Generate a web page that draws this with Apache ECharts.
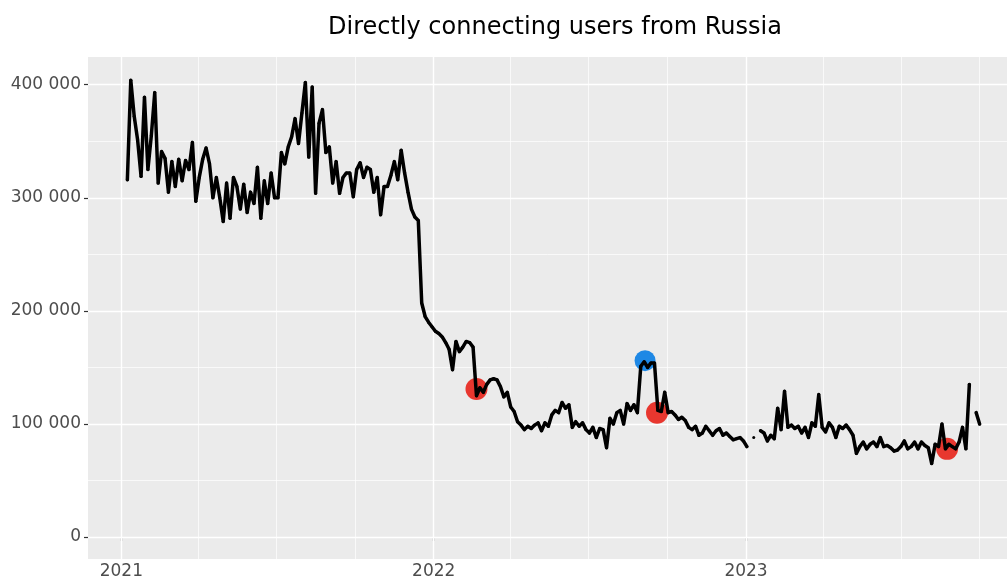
<!DOCTYPE html>
<html>
<head>
<meta charset="utf-8">
<script src="https://cdn.jsdelivr.net/npm/echarts@6/dist/echarts.min.js"></script>
<style>
html,body{margin:0;padding:0;background:#fff;}
#chart{width:1007px;height:580px;}
</style>
</head>
<body>
<div id="chart"></div>
<script>
// ---- data ----
const titleText = 'Directly connecting users from Russia';
const startDate = [2021, 1, 8];   // first day of the series
const stepDays = 4;               // spacing between readings
const users = [
316000,404000,372000,351000,319000,389000,325000,355000,393000,313000,
341000,335000,305000,332000,310000,334000,315000,333000,325000,349000,
297000,318000,334000,344000,330000,300000,318000,300000,279000,313000,
282000,318000,310000,290000,312000,287000,305000,295000,327000,282000,
315000,295000,322000,300000,300000,340000,330000,345000,354000,370000,
348000,375000,402000,336000,398000,304000,366000,378000,340000,345000,
313000,332000,304000,318000,322000,322000,301000,325000,331000,318000,
327000,325000,305000,318000,285000,310000,310000,320000,332000,316000,
342000,322000,305000,290000,283000,280000,207000,195000,190000,186000,
182000,180000,177000,172000,166000,148000,173000,164000,168000,173000,
172000,168000,125000,132000,128000,135000,139000,140000,139000,133000,
124000,128000,115000,111000,102000,99000,95000,98000,96000,99000,
101000,94000,101000,98000,108000,112000,110000,119000,114000,117000,
97000,102000,98000,101000,95000,92000,97000,88000,96000,95000,
79000,105000,100000,110000,112000,100000,118000,112000,117000,110000,
151000,155000,150000,154000,154000,112000,111000,128000,110000,111000,
108000,104000,106000,103000,97000,95000,98000,90000,92000,98000,
94000,90000,94000,96000,90000,92000,89000,86000,87000,88000,
85000,80000,null,88000,null,94000,92000,85000,90000,87000,
114000,95000,129000,97000,99000,96000,98000,92000,97000,88000,
101000,98000,126000,97000,93000,101000,97000,88000,98000,96000,
99000,95000,90000,74000,80000,84000,78000,82000,84000,80000,
88000,80000,81000,79000,76000,77000,80000,85000,78000,80000,
84000,78000,84000,81000,79000,65000,82000,80000,100000,78000,
82000,80000,78000,84000,97000,78000,135000,null,110000,100000
];
const blockDates = ['2022-02-20', '2022-09-19', '2023-08-24'];
const blockValues = [131000, 110000, 78000];
const unblockDates = ['2022-09-05'];
const unblockValues = [156000];
const yearTicks = ['2021-01-01', '2022-01-01', '2023-01-01'];
const quarterLines = ['2021-04-01','2021-07-01','2021-10-01','2022-04-01','2022-07-01','2022-10-01','2023-04-01','2023-07-01','2023-10-01'];
const yTicks = [0, 100000, 200000, 300000, 400000];
const yMinorLines = [50000, 150000, 250000, 350000];
const xMin = '2020-11-23', xMax = '2023-11-02';
const yMin = -19400, yMax = 424500;

// ---- helpers ----
function ts(s) { const p = s.split('-').map(Number); return new Date(p[0], p[1] - 1, p[2]).getTime(); }
const lineData = users.map((v, i) => [new Date(startDate[0], startDate[1] - 1, startDate[2] + stepDays * i).getTime(), v]);
const blockData = blockDates.map((d, i) => [ts(d), blockValues[i]]);
const unblockData = unblockDates.map((d, i) => [ts(d), unblockValues[i]]);
function fmtNum(v) { return String(v).replace(/\B(?=(\d{3})+(?!\d))/g, ' '); }

const major = { color: '#ffffff', width: 1.4, type: 'solid' };
const minor = { color: '#ffffff', width: 0.7, type: 'solid' };
const gridLines = []
  .concat(yMinorLines.map(v => ({ yAxis: v, lineStyle: minor })))
  .concat(quarterLines.map(d => ({ xAxis: ts(d), lineStyle: minor })))
  .concat(yTicks.map(v => ({ yAxis: v, lineStyle: major })))
  .concat(yearTicks.map(d => ({ xAxis: ts(d), lineStyle: major })));

const font = 'DejaVu Sans';
const chart = echarts.init(document.getElementById('chart'), null, { renderer: 'canvas' });
chart.setOption({
  animation: false,
  backgroundColor: '#ffffff',
  title: {
    text: titleText, left: 323, top: 11,
    textStyle: { fontFamily: font, fontSize: 24, fontWeight: 'normal', color: '#000000' }
  },
  grid: { left: 88, right: 0, top: 57, bottom: 20, show: true, backgroundColor: '#EBEBEB', borderWidth: 0 },
  xAxis: {
    type: 'value', min: ts(xMin), max: ts(xMax),
    axisLine: { show: false },
    splitLine: { show: false },
    axisTick: { show: true, length: 4, lineStyle: { color: '#333333', width: 1.2 }, customValues: yearTicks.map(ts) },
    axisLabel: {
      customValues: yearTicks.map(ts), margin: 4,
      formatter: v => String(new Date(v).getFullYear()),
      fontFamily: font, fontSize: 17, color: '#4D4D4D'
    }
  },
  yAxis: {
    type: 'value', min: yMin, max: yMax,
    axisLine: { show: false },
    splitLine: { show: false },
    axisTick: { show: true, length: 4, lineStyle: { color: '#333333', width: 1.2 }, customValues: yTicks },
    axisLabel: {
      customValues: yTicks, margin: 7,
      formatter: v => fmtNum(v),
      fontFamily: font, fontSize: 17, color: '#4D4D4D'
    }
  },
  series: [
    {
      type: 'line', data: [], z: 1, silent: true,
      markLine: { z: 1, silent: true, symbol: ['none', 'none'], label: { show: false }, animation: false, data: gridLines }
    },
    {
      type: 'scatter', data: blockData, z: 8, symbol: 'circle', symbolSize: 22, silent: true,
      itemStyle: { color: '#E8372F', opacity: 1 }
    },
    {
      type: 'scatter', data: unblockData, z: 8, symbol: 'circle', symbolSize: 21, silent: true,
      itemStyle: { color: '#1E88E5', opacity: 1 }
    },
    {
      type: 'line', data: lineData, z: 10, connectNulls: false,
      showSymbol: true, symbol: 'circle', symbolSize: 3, silent: true,
      itemStyle: { color: '#000000', borderWidth: 0 },
      lineStyle: { color: '#000000', width: 3.5, join: 'round', cap: 'round' }
    }
  ]
});
</script>
</body>
</html>
